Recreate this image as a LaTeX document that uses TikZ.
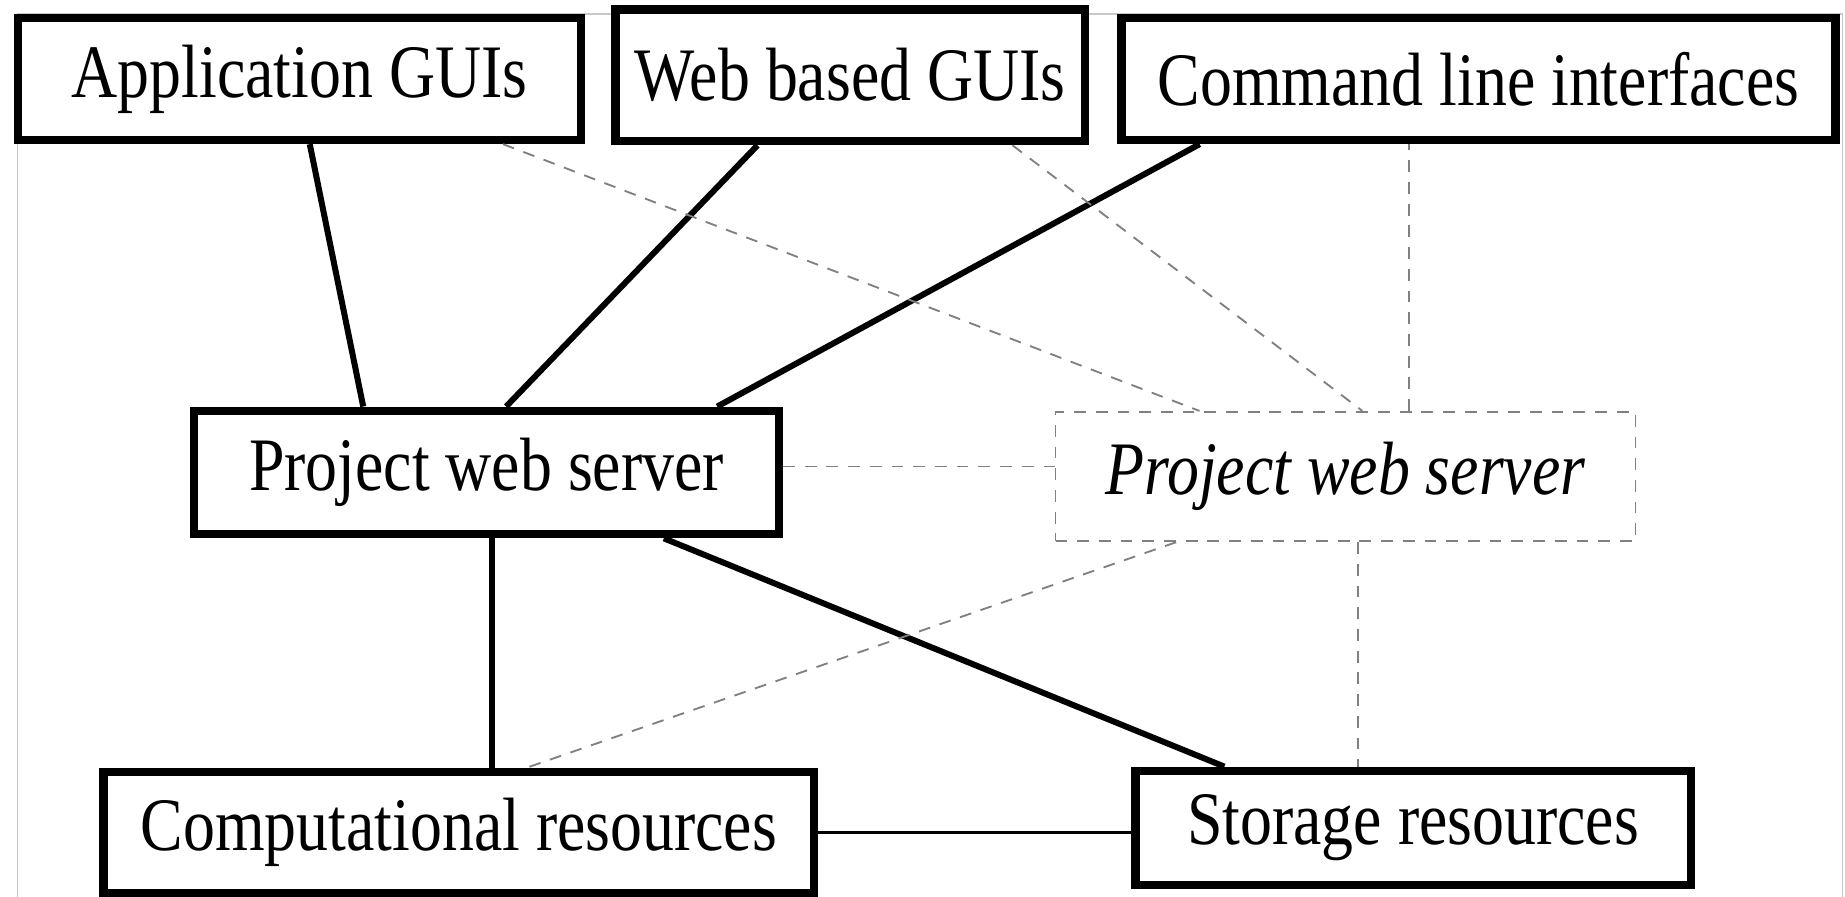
\documentclass[tikz,border=0pt]{standalone}
\usepackage{graphicx}
\usepackage{fontspec}
\setmainfont{Liberation Serif}
\usetikzlibrary{calc}
\definecolor{dgray}{HTML}{808080}
\definecolor{fgray}{HTML}{C8C8C8}
\newcommand{\tallt}[1]{\scalebox{0.98}[1.16]{#1}}
\tikzset{
  box/.style={draw=black, line width=4pt, fill=white, inner sep=0pt,
    font=\fontsize{31.5}{36}\selectfont},
  dbox/.style={draw=dgray, line width=0.9pt, dash pattern=on 5.7pt off 4.8pt, fill=white, inner sep=0pt,
    font=\fontsize{31.5}{36}\selectfont\itshape},
  thickline/.style={line width=2.9pt},
  thinline/.style={line width=1.2pt},
  dline/.style={draw=dgray, line width=0.9pt, dash pattern=on 5.7pt off 4.8pt},
  frame/.style={draw=fgray, line width=0.7pt}
}
\begin{document}
\begin{tikzpicture}[x=0.02cm, y=-0.02cm]
\useasboundingbox (0,0) rectangle (1568,762);
% light frame
\draw[frame] (15,762) -- (15,12) -- (1566,12) -- (1566,762);
% nodes
\node[box, minimum width=9.58cm, minimum height=2.08cm] (app) at (254.5,67) {\tallt{Application GUIs}};
\node[box, minimum width=7.98cm, minimum height=2.24cm] (web) at (722.5,64) {\tallt{Web based GUIs}};
\node[box, minimum width=12.14cm, minimum height=2.08cm] (cmd) at (1256.5,67) {\tallt{Command line interfaces}};
\node[box, minimum width=9.94cm, minimum height=2.10cm] (proj) at (413.5,401.5) {\tallt{Project web server}};
\node[dbox, minimum width=9.86cm, minimum height=2.20cm] (dsrv) at (1143.5,405) {\tallt{Project web server}};
\node[box, minimum width=12.08cm, minimum height=2.06cm] (comp) at (390,707.5) {\tallt{Computational resources}};
\node[box, minimum width=9.44cm, minimum height=1.94cm] (stor) at (1201,703.5) {\tallt{Storage resources}};
% solid connectors
\draw[thickline] ($(app.south west)!0.518!(app.south east)$) -- ($(proj.north west)!0.292!(proj.north east)$);
\draw[thickline] ($(web.south west)!0.306!(web.south east)$) -- ($(proj.north west)!0.533!(proj.north east)$);
\draw[thickline] ($(cmd.south west)!0.114!(cmd.south east)$) -- ($(proj.north west)!0.889!(proj.north east)$);
\draw[thickline] ($(proj.south west)!0.509!(proj.south east)$) coordinate (pc) -- (pc |- comp.north);
\draw[thickline] ($(proj.south west)!0.799!(proj.south east)$) -- ($(stor.north west)!0.165!(stor.north east)$);
\draw[thinline] (comp.east) -- (comp.east -| stor.west);
% dashed connectors
\draw[dline] ($(app.south west)!0.856!(app.south east)$) -- ($(dsrv.north west)!0.249!(dsrv.north east)$);
\draw[dline] ($(web.south west)!0.84!(web.south east)$) -- ($(dsrv.north west)!0.529!(dsrv.north east)$);
\draw[dline] ($(dsrv.north west)!0.609!(dsrv.north east)$) coordinate (dc) -- (dc |- cmd.south);
\draw[dline] ($(proj.east)+(0,-5)$) coordinate (pe) -- (pe -| dsrv.west);
\draw[dline] ($(dsrv.south west)!0.209!(dsrv.south east)$) -- ($(comp.north west)!0.594!(comp.north east)$);
\draw[dline] ($(dsrv.south west)!0.521!(dsrv.south east)$) coordinate (ds) -- (ds |- stor.north);
\end{tikzpicture}
\end{document}
